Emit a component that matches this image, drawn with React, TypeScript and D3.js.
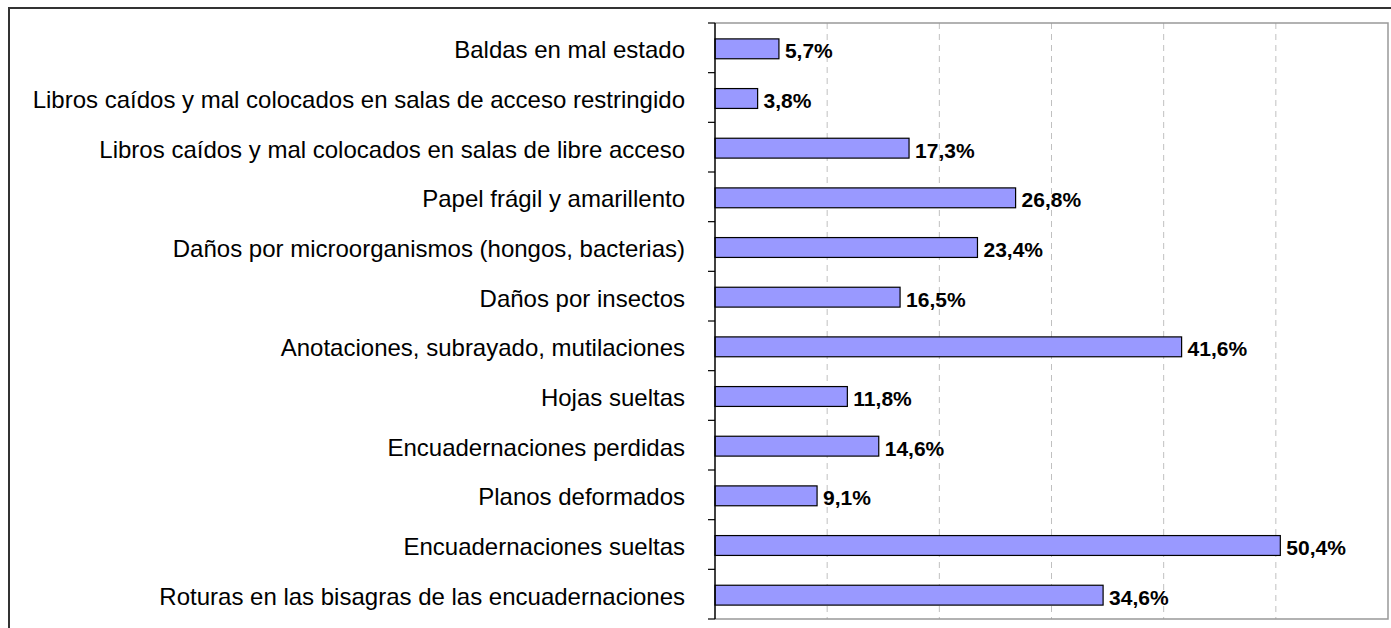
import * as d3 from "d3";
import React, { useRef, useEffect } from "react";

const categories = [
  "Baldas en mal estado",
  "Libros caídos y mal colocados en salas de acceso restringido",
  "Libros caídos y mal colocados en salas de libre acceso",
  "Papel frágil y amarillento",
  "Daños por microorganismos (hongos, bacterias)",
  "Daños por insectos",
  "Anotaciones, subrayado, mutilaciones",
  "Hojas sueltas",
  "Encuadernaciones perdidas",
  "Planos deformados",
  "Encuadernaciones sueltas",
  "Roturas en las bisagras de las encuadernaciones",
];
const values = [5.7, 3.8, 17.3, 26.8, 23.4, 16.5, 41.6, 11.8, 14.6, 9.1, 50.4, 34.6];
const xTicks = [10, 20, 30, 40, 50, 60];

const App = () => {
  const ref = useRef<SVGSVGElement>(null);
  const width = 1391;
  const height = 628;

  useEffect(() => {
    const svg = d3.select(ref.current);
    svg.selectAll("*").remove();

    const left = 715, right = 1388, top = 23, bottom = 619;
    const x = d3.scaleLinear().domain([0, 60]).range([left, right]);
    const y = d3.scaleBand().domain(categories).range([top, bottom]).paddingInner(0.6).paddingOuter(0.3);
    const band = (bottom - top) / categories.length;

    // outer frame
    svg.append("rect")
      .attr("x", 9).attr("y", 8)
      .attr("width", 1400).attr("height", 640)
      .attr("fill", "white").attr("stroke", "#333").attr("stroke-width", 2);

    // grid
    svg.append("g").selectAll("line").data(xTicks.slice(0, -1)).enter()
      .append("line")
      .attr("x1", d => x(d)).attr("x2", d => x(d))
      .attr("y1", top).attr("y2", bottom)
      .attr("stroke", "#c0c0c0").attr("stroke-dasharray", "6,5");

    // plot border
    svg.append("path")
      .attr("d", `M${left},${top}H${right}V${bottom}H${left}`)
      .attr("fill", "none").attr("stroke", "#999").attr("stroke-width", 1.5);

    // bars
    svg.append("g").selectAll("rect").data(values).enter()
      .append("rect")
      .attr("x", x(0))
      .attr("y", (d, i) => y(categories[i])! + 1)
      .attr("width", d => x(d) - x(0))
      .attr("height", y.bandwidth())
      .attr("fill", "#9999ff").attr("stroke", "#000").attr("stroke-width", 1.2);

    // value labels
    svg.append("g").selectAll("text").data(values).enter()
      .append("text")
      .attr("x", d => x(d) + 6)
      .attr("y", (d, i) => y(categories[i])! + y.bandwidth() / 2 + 1)
      .attr("dy", "0.45em")
      .attr("font-family", "Liberation Sans, Arial, sans-serif")
      .attr("font-size", 21).attr("font-weight", "bold")
      .text(d => d.toFixed(1).replace(".", ",") + "%");

    // y axis line + ticks
    svg.append("line")
      .attr("x1", left).attr("x2", left).attr("y1", top).attr("y2", bottom)
      .attr("stroke", "#000").attr("stroke-width", 1.5);
    svg.append("g").selectAll("line").data(d3.range(categories.length + 1)).enter()
      .append("line")
      .attr("x1", left - 7).attr("x2", left)
      .attr("y1", i => top + i * band).attr("y2", i => top + i * band)
      .attr("stroke", "#000").attr("stroke-width", 1.2);

    // category labels
    svg.append("g").selectAll("text").data(categories).enter()
      .append("text")
      .attr("x", 685)
      .attr("y", d => y(d)! + y.bandwidth() / 2 + 1)
      .attr("dy", "0.4em")
      .attr("text-anchor", "end")
      .attr("font-family", "Liberation Sans, Arial, sans-serif")
      .attr("font-size", 24)
      .text(d => d);
  }, []);

  return (
    <svg ref={ref} width={width} height={height}
      style={{ position: "absolute", left: 0, top: 0 }} />
  );
};

export default App;
